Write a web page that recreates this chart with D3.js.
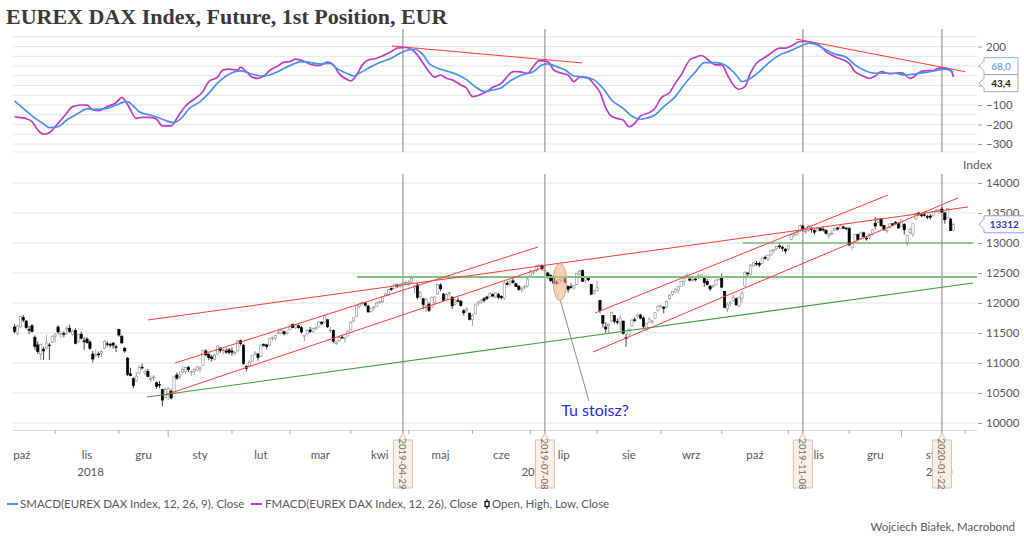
<!DOCTYPE html>
<html><head><meta charset="utf-8">
<script src="https://cdn.jsdelivr.net/npm/d3@7"></script>
<style>body{margin:0;background:#fff}svg{display:block}text{font-family:Lato,"Noto Sans",sans-serif}</style>
</head><body>
<svg id="c" width="1024" height="542"></svg>
<script>
// ---------------- DATA ----------------
const titleText = "EUREX DAX Index, Future, 1st Position, EUR";
const firstDate = "2018-10-12", lastDate = "2020-01-28";
const axisStart = "2018-10-01", axisEnd = "2020-02-28";
const holidays = ["2018-12-24","2018-12-25","2018-12-26","2018-12-31","2019-01-01","2019-04-19","2019-04-22","2019-05-01","2019-12-24","2019-12-25","2019-12-26","2019-12-31","2020-01-01"];
const monthNames = ["sty","lut","mar","kwi","maj","cze","lip","sie","wrz","paź","lis","gru"];
const mainTicks = [10000,10500,11000,11500,12000,12500,13000,13500,14000];
const macdTicks = [-300,-200,-100,0,100,200];
const macdGrid = [-300,-250,-200,-150,-100,-50,0,50,100,150,200,250];

// daily candles [open, high, low, close]
const ohlc2018_10 = [[11600,11650,11490,11524],[11490,11640,11460,11614],[11600,11790,11590,11777],[11760,11800,11680,11715],[11700,11720,11570,11589],[11560,11620,11480,11553],[11620,11650,11510,11524],[11430,11460,11220,11274],[11300,11360,11150,11191],[11150,11320,11050,11307],[11230,11270,11050,11201],[11250,11470,11230,11335],[11300,11330,11050,11287],[11350,11460,11330,11447]];
const ohlc2018_11 = [[11440,11500,11340,11468],[11600,11630,11480,11519],[11470,11530,11420,11494],[11490,11530,11430,11484],[11560,11620,11470,11579],[11580,11640,11500,11527],[11480,11560,11450,11529],[11540,11580,11310,11325],[11360,11490,11330,11472],[11480,11520,11390,11412],[11370,11430,11220,11353],[11400,11430,11320,11341],[11350,11380,11220,11244],[11150,11200,11010,11066],[11120,11220,11100,11138],[11150,11190,11090,11138],[11160,11220,11100,11193],[11240,11380,11230,11355],[11320,11360,11270,11309],[11310,11340,11260,11298],[11330,11350,11240,11298],[11270,11300,11180,11257]];
const ohlc2018_12 = [[11560,11570,11440,11465],[11440,11470,11320,11335],[11240,11270,11170,11200],[11080,11100,10780,10811],[10820,10920,10780,10788],[10740,10760,10580,10622],[10700,10850,10690,10780],[10830,10960,10820,10931],[10930,10990,10890,10924],[10830,10890,10800,10865],[10860,10900,10760,10772],[10740,10790,10680,10740],[10750,10800,10700,10766],[10670,10690,10570,10611],[10640,10700,10580,10634],[10560,10570,10280,10381],[10420,10590,10410,10559]];
const ohlc2019_01 = [[10480,10600,10380,10580],[10530,10560,10390,10416],[10500,10790,10480,10767],[10800,10840,10720,10747],[10780,10860,10730,10803],[10850,10950,10820,10893],[10860,10930,10810,10922],[10930,10950,10850,10888],[10850,10880,10780,10856],[10860,10910,10800,10891],[10880,10960,10860,10932],[10900,10950,10840,10919],[10960,11220,10950,11205],[11200,11230,11110,11136],[11140,11170,11050,11090],[11100,11130,11030,11071],[11060,11150,11040,11130],[11150,11300,11140,11282],[11250,11260,11170,11210],[11210,11240,11140,11218],[11200,11250,11150,11181],[11220,11250,11140,11173]];
const ohlc2019_02 = [[11200,11260,11120,11180],[11170,11200,11130,11176],[11200,11380,11190,11367],[11370,11390,11290,11325],[11300,11310,10970,10991],[10940,10960,10860,10906],[10950,11050,10940,11014],[11030,11140,11020,11126],[11150,11200,11130,11167],[11150,11170,11040,11089],[11110,11310,11100,11299],[11310,11330,11270,11309],[11300,11320,11230,11278],[11300,11420,11290,11401],[11410,11440,11370,11423],[11410,11470,11380,11457],[11500,11580,11480,11505],[11500,11560,11480,11540],[11520,11540,11460,11487],[11490,11540,11470,11515]];
const ohlc2019_03 = [[11550,11640,11540,11601],[11640,11660,11580,11592],[11590,11630,11560,11620],[11620,11640,11570,11587],[11590,11620,11490,11517],[11440,11470,11360,11457],[11480,11560,11460,11543],[11550,11600,11500,11524],[11530,11590,11500,11572],[11570,11610,11550,11587],[11600,11700,11590,11685],[11680,11700,11630,11657],[11680,11820,11660,11788],[11720,11730,11580,11603],[11540,11600,11500,11549],[11540,11560,11330,11364],[11320,11370,11300,11346],[11370,11460,11350,11419],[11430,11470,11400,11419],[11400,11440,11340,11428],[11450,11550,11440,11526]];
const ohlc2019_04 = [[11560,11700,11540,11681],[11700,11760,11680,11754],[11780,11970,11770,11954],[11940,11990,11910,11988],[11990,12030,11960,12010],[12000,12020,11940,11963],[11950,11970,11840,11850],[11860,11920,11840,11905],[11920,11950,11880,11935],[11950,12020,11940,11999],[12010,12040,11990,12020],[12030,12110,12000,12101],[12120,12170,12110,12153],[12130,12230,12120,12222],[12240,12260,12200,12235],[12240,12320,12230,12313],[12300,12320,12250,12282],[12270,12330,12250,12315],[12320,12350,12300,12328],[12330,12370,12290,12344]];
const ohlc2019_05 = [[12330,12380,12290,12345],[12350,12430,12330,12412],[12250,12300,12160,12286],[12300,12330,12060,12093],[12100,12200,12080,12180],[12070,12080,11900,11973],[11950,12090,11850,12060],[11980,12010,11850,11877],[11930,12110,11920,12093],[12010,12110,11960,12100],[12150,12320,12140,12310],[12300,12330,12200,12238],[12150,12170,12030,12041],[12070,12170,12060,12143],[12160,12190,12110,12168],[12100,12110,11900,11952],[11980,12060,11960,12011],[12040,12090,12020,12027],[12030,12050,11940,11955],[11870,11900,11790,11837],[11880,11930,11840,11903],[11830,11840,11710,11727]];
const ohlc2019_06 = [[11720,11820,11620,11792],[11820,11990,11810,11971],[11990,12030,11950,12015],[12010,12070,11990,12045],[12070,12100,12010,12045],[12100,12120,12050,12075],[12110,12180,12090,12157],[12140,12160,12090,12116],[12100,12180,12080,12169],[12140,12170,12060,12096],[12110,12130,12060,12086],[12080,12360,12050,12332],[12330,12370,12290,12308],[12320,12380,12280,12355],[12370,12420,12320,12340],[12320,12340,12270,12274],[12280,12300,12200,12228],[12220,12270,12180,12245],[12270,12300,12230,12271],[12280,12420,12260,12399]];
const ohlc2019_07 = [[12450,12560,12440,12521],[12510,12540,12470,12526],[12540,12630,12520,12616],[12610,12650,12600,12629],[12630,12640,12540,12568],[12540,12570,12500,12543],[12500,12520,12400,12437],[12460,12480,12350,12373],[12410,12440,12320,12332],[12350,12380,12300,12323],[12330,12400,12310,12387],[12380,12440,12350,12431],[12410,12420,12330,12342],[12280,12290,12170,12227],[12270,12330,12240,12260],[12250,12300,12220,12290],[12310,12500,12300,12490],[12480,12560,12460,12522],[12540,12560,12350,12362],[12380,12440,12330,12419],[12420,12430,12360,12386],[12310,12320,12130,12147],[12160,12230,12140,12189]];
const ohlc2019_08 = [[12210,12370,12190,12253],[12040,12050,11830,11872],[11790,11800,11590,11658],[11600,11680,11500,11567],[11620,11660,11500,11650],[11700,11860,11680,11845],[11790,11800,11660,11693],[11690,11740,11640,11679],[11660,11800,11550,11750],[11700,11700,11470,11493],[11420,11490,11270,11412],[11470,11580,11450,11563],[11620,11730,11610,11715],[11720,11760,11680,11712],[11780,11830,11740,11802],[11800,11820,11730,11747],[11750,11780,11560,11612],[11550,11670,11530,11658],[11680,11770,11670,11730],[11680,11720,11640,11701],[11740,11850,11730,11838],[11870,11960,11860,11939]];
const ohlc2019_09 = [[11940,11970,11910,11953],[11930,11950,11830,11910],[11930,12040,11920,12025],[12070,12150,12050,12126],[12140,12200,12110,12192],[12190,12240,12170,12226],[12210,12290,12160,12268],[12280,12370,12270,12359],[12360,12460,12290,12410],[12420,12490,12410,12469],[12400,12420,12360,12381],[12380,12420,12350,12389],[12400,12420,12360,12390],[12420,12490,12400,12457],[12440,12480,12420,12468],[12410,12420,12270,12342],[12360,12400,12290,12307],[12280,12300,12200,12234],[12270,12310,12250,12288],[12300,12400,12290,12381],[12390,12440,12370,12428]];
const ohlc2019_10 = [[12440,12490,12260,12263],[12190,12200,11920,11925],[11900,12010,11850,11980],[11990,12030,11940,12013],[12040,12140,12020,12097],[12070,12090,11950,11970],[11950,12110,11930,12094],[12080,12200,12010,12164],[12280,12530,12270,12511],[12500,12510,12420,12486],[12480,12650,12460,12630],[12620,12680,12600,12670],[12660,12700,12620,12654],[12660,12690,12600,12633],[12660,12770,12650,12748],[12760,12790,12720,12754],[12730,12800,12700,12798],[12800,12880,12790,12872],[12870,12900,12830,12894],[12910,12950,12880,12941],[12950,12980,12900,12939],[12930,12960,12860,12910],[12900,12910,12820,12867]];
const ohlc2019_11 = [[12900,12970,12870,12961],[13060,13140,13050,13136],[13130,13170,13100,13148],[13150,13190,13110,13179],[13200,13300,13180,13289],[13280,13300,13190,13228],[13190,13220,13150,13198],[13210,13300,13190,13283],[13250,13260,13170,13230],[13210,13240,13140,13180],[13200,13250,13190,13241],[13240,13260,13190,13207],[13230,13280,13190,13221],[13210,13230,13140,13159],[13120,13170,13070,13138],[13160,13210,13130,13163],[13210,13260,13200,13246],[13250,13270,13210,13232],[13240,13300,13230,13287],[13270,13290,13230,13245],[13250,13260,13210,13236]];
const ohlc2019_12 = [[13240,13270,12960,12965],[12930,13010,12880,12989],[13020,13150,13010,13140],[13140,13160,13040,13055],[13080,13190,13070,13166],[13170,13190,13090,13106],[13080,13120,13040,13071],[13090,13160,13060,13142],[13140,13230,13120,13221],[13330,13430,13230,13283],[13350,13420,13330,13407],[13400,13410,13270,13288],[13290,13300,13200,13222],[13200,13230,13160,13212],[13260,13330,13240,13319],[13320,13330,13280,13300],[13340,13370,13330,13337],[13330,13340,13240,13249]];
const ohlc2020_01 = [[13270,13390,13270,13386],[13310,13330,13140,13219],[13000,13130,12950,13127],[13180,13260,13140,13227],[13150,13320,13100,13320],[13400,13500,13390,13495],[13500,13520,13450,13483],[13470,13490,13430,13452],[13470,13520,13440,13456],[13440,13470,13400,13432],[13450,13480,13390,13430],[13460,13530,13450,13526],[13540,13560,13510,13549],[13520,13560,13490,13556],[13560,13600,13500,13515],[13500,13520,13320,13388],[13420,13590,13410,13577],[13400,13420,13200,13205],[13210,13340,13190,13312]];

// MACD panel: [trading-day index from first candle, value]
const fmacd = [[0,-160],[2,-165],[4,-170],[6,-185],[8,-228],[10,-250],[12,-242],[14,-211],[16,-177],[18,-141],[20,-108],[23,-100],[25,-101],[27,-125],[29,-129],[32,-108],[35,-88],[37,-62],[38,-74],[40,-125],[42,-168],[44,-163],[47,-163],[49,-173],[51,-207],[54,-207],[56,-168],[59,-105],[62,-69],[65,-31],[67,20],[70,43],[72,80],[74,84],[77,80],[78,94],[80,71],[82,43],[84,37],[86,49],[88,77],[91,102],[93,120],[95,123],[97,135],[100,123],[102,109],[105,102],[108,120],[110,106],[112,60],[115,29],[116,24],[118,54],[120,106],[122,131],[125,140],[127,152],[130,174],[132,192],[135,195],[137,186],[139,157],[141,114],[143,71],[145,43],[147,54],[149,37],[151,29],[154,3],[156,-14],[158,-57],[161,-45],[163,-31],[165,-9],[168,12],[170,46],[172,71],[174,71],[177,63],[179,97],[181,128],[184,123],[186,80],[188,66],[191,54],[193,20],[195,43],[198,37],[200,5],[202,-35],[204,-115],[206,-158],[209,-173],[210,-177],[212,-211],[214,-194],[216,-156],[219,-139],[221,-117],[223,-65],[226,-36],[228,12],[230,54],[233,131],[235,145],[237,154],[240,123],[242,106],[244,106],[246,54],[248,3],[250,-19],[252,-6],[254,66],[256,114],[259,145],[261,166],[264,192],[266,192],[268,203],[271,226],[273,226],[275,221],[278,203],[280,174],[283,148],[286,131],[288,114],[290,71],[292,54],[295,37],[297,49],[299,71],[302,60],[304,63],[306,66],[309,37],[310,41],[312,66],[314,75],[317,77],[319,89],[321,89],[323,80],[324,43.4]];
const smacd = [[0,-79],[3,-117],[6,-156],[10,-197],[12,-216],[15,-211],[18,-177],[22,-142],[25,-120],[28,-122],[32,-117],[35,-100],[39,-83],[41,-105],[43,-134],[48,-156],[51,-173],[55,-190],[58,-160],[60,-122],[64,-83],[67,-40],[70,12],[73,49],[78,75],[81,63],[85,49],[88,54],[92,80],[95,102],[99,123],[102,118],[105,111],[109,114],[111,89],[115,60],[117,49],[119,63],[123,97],[126,118],[130,140],[133,166],[136,183],[138,186],[141,157],[143,114],[146,89],[150,71],[153,54],[156,29],[159,-6],[162,-31],[165,-23],[168,-11],[170,12],[172,32],[175,54],[179,71],[182,106],[184,111],[187,97],[190,80],[193,49],[197,43],[200,29],[203,-14],[206,-74],[210,-117],[213,-156],[216,-173],[218,-168],[221,-151],[224,-108],[228,-57],[231,3],[235,71],[238,118],[242,118],[245,106],[249,54],[251,20],[253,29],[257,71],[260,114],[264,157],[267,174],[271,200],[274,217],[276,214],[280,183],[283,162],[287,145],[290,106],[293,80],[297,63],[300,63],[304,63],[307,54],[311,60],[314,66],[318,77],[321,84],[324,68.0]];

// drawn trend lines: [index1, value1, index2, value2]
const redLines = [[46.0,11717,329.0,13600],[55.4,11000,180.6,12933],[51.9,10467,183.0,12600],[200.3,11833,301.4,13800],[199.6,11183,325.5,13750]];
const greenThin = [[45.7,10433,330.7,12333],[251.3,13000,330.7,13000]];
const greenThick = [[118.2,12433,332.1,12433]];
const macdRedLines = [[130.2,203,195.8,116],[269.6,239,328.0,71]];
const markerDates = ["2019-04-29","2019-07-08","2019-11-08","2020-01-22"];
const noteEllipse = [188.2,12350,2.3,310];      // centre index, value, half-width (days), half-height (points)
const noteLine = [188.3,12045,198.2,10367];
const noteText = ["Tu stoisz?",200.3,10117];
const legendItems = ["SMACD(EUREX DAX Index, 12, 26, 9), Close","FMACD(EUREX DAX Index, 12, 26), Close","Open, High, Low, Close"];
const sourceText = "Wojciech Białek, Macrobond";

// ---------------- LAYOUT ----------------
const plotL = 13, plotR = 977, topT = 29, topB = 152, mainT = 174, mainB = 430;
const C = {blue:"#4a90ee", mag:"#c03cc6", red:"#ff3b3b", green:"#3f9f3f", green2:"#7cc67c", grid:"#e4e4e4", vline:"#a3a3a3", text:"#595959"};

const svg = d3.select("#c");
const parse = d3.utcParse("%Y-%m-%d"), fmt = d3.utcFormat("%Y-%m-%d");
const hol = new Set(holidays);
function tradingDays(a,b){
  return d3.utcDay.range(parse(a), d3.utcDay.offset(parse(b),1))
    .filter(d => { const w = d.getUTCDay(); return w > 0 && w < 6 && !hol.has(fmt(d)); });
}
const calendar = tradingDays(axisStart, axisEnd);
const idx0 = calendar.findIndex(d => fmt(d) === firstDate);
const dayIndex = s => calendar.findIndex(d => fmt(d) === s) - idx0;

const allOhlc = [].concat(ohlc2018_10,ohlc2018_11,ohlc2018_12,ohlc2019_01,ohlc2019_02,ohlc2019_03,ohlc2019_04,ohlc2019_05,ohlc2019_06,ohlc2019_07,ohlc2019_08,ohlc2019_09,ohlc2019_10,ohlc2019_11,ohlc2019_12,ohlc2020_01);
const dates = tradingDays(firstDate, lastDate);
const candles = allOhlc.map((r,i) => ({i, date:dates[i], o:r[0], h:r[1], l:r[2], c:r[3]}));

const x = d3.scaleLinear().domain([-0.55, 332.1]).range([plotL, plotR]);
const yMain = d3.scaleLinear().domain([9883, 14150]).range([mainB, mainT]);
const yTop = d3.scaleLinear().domain([-341, 290]).range([topB, topT]);

// title
svg.append("text").attr("x",6).attr("y",24).text(titleText)
  .style("font-family","'Liberation Serif',serif").style("font-weight","bold").style("font-size","22px").attr("fill","#3a3a3a");

// grids
svg.append("g").selectAll("line").data(macdGrid).join("line")
  .attr("x1",plotL).attr("x2",plotR).attr("y1",d=>yTop(d)).attr("y2",d=>yTop(d)).attr("stroke",C.grid);
svg.append("line").attr("x1",plotL).attr("x2",plotR).attr("y1",topB).attr("y2",topB).attr("stroke","#efefef");
svg.append("g").selectAll("line").data(mainTicks).join("line")
  .attr("x1",plotL).attr("x2",plotR).attr("y1",d=>yMain(d)).attr("y2",d=>yMain(d)).attr("stroke",C.grid);
svg.append("line").attr("x1",plotL).attr("x2",plotR).attr("y1",mainB+0.5).attr("y2",mainB+0.5).attr("stroke","#d8d8d8");

// vertical marker lines
const mk = markerDates.map(dayIndex);
svg.append("g").selectAll("line").data(mk).join("line")
  .attr("x1",d=>x(d)).attr("x2",d=>x(d)).attr("y1",topT).attr("y2",topB).attr("stroke",C.vline).attr("stroke-width",1.4);
svg.append("g").selectAll("line").data(mk).join("line")
  .attr("x1",d=>x(d)).attr("x2",d=>x(d)).attr("y1",mainT).attr("y2",mainB+3).attr("stroke",C.vline).attr("stroke-width",1.4);

// MACD lines
const lineGen = d3.line().x(d=>x(d[0])).y(d=>yTop(d[1])).curve(d3.curveMonotoneX);
svg.append("g").selectAll("line").data(macdRedLines).join("line")
  .attr("x1",d=>x(d[0])).attr("y1",d=>yTop(d[1])).attr("x2",d=>x(d[2])).attr("y2",d=>yTop(d[3])).attr("stroke",C.red).attr("stroke-width",1);
svg.append("path").datum(fmacd).attr("d",lineGen).attr("fill","none").attr("stroke",C.mag).attr("stroke-width",1.7);
svg.append("path").datum(smacd).attr("d",lineGen).attr("fill","none").attr("stroke",C.blue).attr("stroke-width",1.7);

// candles
const cw = 2.3;
const cg = svg.append("g");
cg.selectAll("line").data(candles).join("line")
  .attr("x1",d=>x(d.i)).attr("x2",d=>x(d.i)).attr("y1",d=>yMain(d.h)).attr("y2",d=>yMain(d.l))
  .attr("stroke",d=>d.c>=d.o?"#8c8c8c":"#111").attr("stroke-width",0.8);
cg.selectAll("rect").data(candles).join("rect")
  .attr("x",d=>x(d.i)-cw/2).attr("width",cw)
  .attr("y",d=>yMain(Math.max(d.o,d.c))).attr("height",d=>Math.max(0.8,Math.abs(yMain(d.o)-yMain(d.c))))
  .attr("fill",d=>d.c>=d.o?"#fff":"#000").attr("stroke",d=>d.c>=d.o?"#8c8c8c":"#000").attr("stroke-width",0.6);

// trend lines
function segs(data,color,w){
  svg.append("g").selectAll("line").data(data).join("line")
    .attr("x1",d=>x(d[0])).attr("y1",d=>yMain(d[1])).attr("x2",d=>x(d[2])).attr("y2",d=>yMain(d[3]))
    .attr("stroke",color).attr("stroke-width",w);
}
segs(greenThick,C.green2,2);
segs(greenThin,C.green,1.1);
segs(redLines,C.red,1);

// annotation
svg.append("line").attr("x1",x(noteLine[0])).attr("y1",yMain(noteLine[1])).attr("x2",x(noteLine[2])).attr("y2",yMain(noteLine[3]))
  .attr("stroke","#8a8a8a").attr("stroke-width",1);
svg.append("ellipse").attr("cx",x(noteEllipse[0])).attr("cy",yMain(noteEllipse[1]))
  .attr("rx",x(noteEllipse[0]+noteEllipse[2])-x(noteEllipse[0])).attr("ry",yMain(noteEllipse[1]-noteEllipse[3])-yMain(noteEllipse[1]))
  .attr("fill","rgba(236,180,140,0.6)").attr("stroke","#d6a27c").attr("stroke-width",1);
svg.append("text").attr("x",x(noteText[1])).attr("y",yMain(noteText[2])).attr("text-anchor","middle")
  .style("font-size","16px").attr("fill","#2b2bdd").text(noteText[0]);

// last-value positions for MACD (needed to keep covered axis labels hidden)
const lastS = smacd[smacd.length-1][1], lastF = fmacd[fmacd.length-1][1];
let ys = yTop(lastS), yf = yTop(lastF);
if (Math.abs(ys-yf) < 17) { const m=(ys+yf)/2; ys = m-8.5; yf = m+8.5; }
const boxYs = [ys, yf];

// right axes
const axMain = svg.append("g").attr("transform",`translate(${plotR+1},0)`)
  .call(d3.axisRight(yMain).tickValues(mainTicks).tickSize(4).tickPadding(4).tickFormat(d3.format("d")));
const axTop = svg.append("g").attr("transform",`translate(${plotR+1},0)`)
  .call(d3.axisRight(yTop).tickValues(macdTicks).tickSize(4).tickPadding(4)
    .tickFormat(d => boxYs.some(b => Math.abs(b - yTop(d)) < 13) ? "" : d3.format("d")(d).replace("-","−")));
[axMain,axTop].forEach(a=>{
  a.select(".domain").remove();
  a.selectAll("line").attr("stroke","#999");
  a.selectAll("text").style("font-size","11.5px").attr("fill",C.text).style("font-family","Lato,sans-serif");
});
svg.append("text").attr("x",963).attr("y",169).text("Index").style("font-size","12px").attr("fill",C.text);

// last-value labels
function valueBox(yc, label, stroke, color, bold){
  const g = svg.append("g").attr("transform",`translate(${plotR+2},${yc})`);
  const w = label.length*6.5+8, h = 17;
  g.append("path").attr("d",`M0,0 L5,-5 L5,${-h/2} L${5+w},${-h/2} L${5+w},${h/2} L5,${h/2} L5,5 Z`)
    .attr("fill","#fff").attr("stroke",stroke).attr("stroke-width",1);
  g.append("text").attr("x",5+w/2).attr("y",3.5).attr("text-anchor","middle").text(label)
    .style("font-size","10px").style("font-weight",bold?"bold":"normal").attr("fill",color);
}
const fmtC = d3.format(".1f");
valueBox(ys, fmtC(lastS).replace(".",","), "#86b5f2", C.blue, false);
valueBox(yf, fmtC(lastF).replace(".",","), "#a8a8a8", "#222", true);
valueBox(yMain(candles[candles.length-1].c), String(candles[candles.length-1].c), "#9a9ae8", "#3535c8", true);

// x axis: months / years
const monthStarts = [];
calendar.forEach((d,k)=>{ if(k===0 || d.getUTCMonth()!==calendar[k-1].getUTCMonth()) monthStarts.push({i:k-idx0, d}); });
const xg = svg.append("g");
monthStarts.forEach((m,k)=>{
  const xs = x(m.i);
  if (xs >= plotL && xs <= plotR) {
    xg.append("line").attr("x1",xs).attr("x2",xs).attr("y1",mainB).attr("y2",mainB+(m.d.getUTCMonth()===0?7:4)).attr("stroke","#aaa");
  }
  if (k < monthStarts.length-1) {
    const cx = (xs + x(monthStarts[k+1].i))/2;
    if (cx > plotL && cx < plotR-5)
      xg.append("text").attr("x",cx).attr("y",459).attr("text-anchor","middle").text(monthNames[m.d.getUTCMonth()])
        .style("font-size","11.5px").attr("fill",C.text);
  }
});
const yearStarts = monthStarts.filter(m=>m.d.getUTCMonth()===0).map(m=>x(m.i));
const yearBounds = [plotL, ...yearStarts, plotR];
const yearLabels = [2018, 2019, 2020];
yearLabels.forEach((yv,k)=>{
  const a = Math.max(plotL, yearBounds[k]), b = Math.min(plotR, yearBounds[k+1]);
  xg.append("text").attr("x",(a+b)/2).attr("y",476).attr("text-anchor","middle").text(yv)
    .style("font-size","11.5px").attr("fill",C.text);
});

// date labels under marker lines
const dl = svg.append("g").selectAll("g").data(markerDates).join("g").attr("transform",d=>`translate(${x(dayIndex(d))},0)`);
dl.append("path").attr("d","M0,433 L4,440 L9.5,440 L9.5,488 L-9.5,488 L-9.5,440 L-4,440 Z")
  .attr("fill","#fcf0e4").attr("stroke","#d9c3ae").attr("stroke-width",1);
dl.append("text").attr("transform","translate(-3.5,464) rotate(90)").attr("text-anchor","middle").text(d=>d)
  .style("font-size","9.5px").attr("fill","#6a6a6a");

// legend
const lg = svg.append("g");
lg.append("line").attr("x1",7).attr("x2",18).attr("y1",504).attr("y2",504).attr("stroke",C.blue).attr("stroke-width",2);
lg.append("text").attr("x",20).attr("y",508).text(legendItems[0]).style("font-size","11.5px").attr("fill",C.text);
lg.append("line").attr("x1",251).attr("x2",262).attr("y1",504).attr("y2",504).attr("stroke",C.mag).attr("stroke-width",2);
lg.append("text").attr("x",265).attr("y",508).text(legendItems[1]).style("font-size","11.5px").attr("fill",C.text);
lg.append("line").attr("x1",487).attr("x2",487).attr("y1",499).attr("y2",509).attr("stroke","#000").attr("stroke-width",1);
lg.append("rect").attr("x",485).attr("y",501.5).attr("width",4).attr("height",5).attr("fill","#fff").attr("stroke","#000").attr("stroke-width",1.2);
lg.append("text").attr("x",492).attr("y",508).text(legendItems[2]).style("font-size","11.5px").attr("fill",C.text);

svg.append("text").attr("x",1015).attr("y",531).attr("text-anchor","end").text(sourceText).style("font-size","11.5px").attr("fill",C.text);

if (allOhlc.length !== dates.length) console.error("length mismatch", allOhlc.length, dates.length);
</script>
</body></html>
